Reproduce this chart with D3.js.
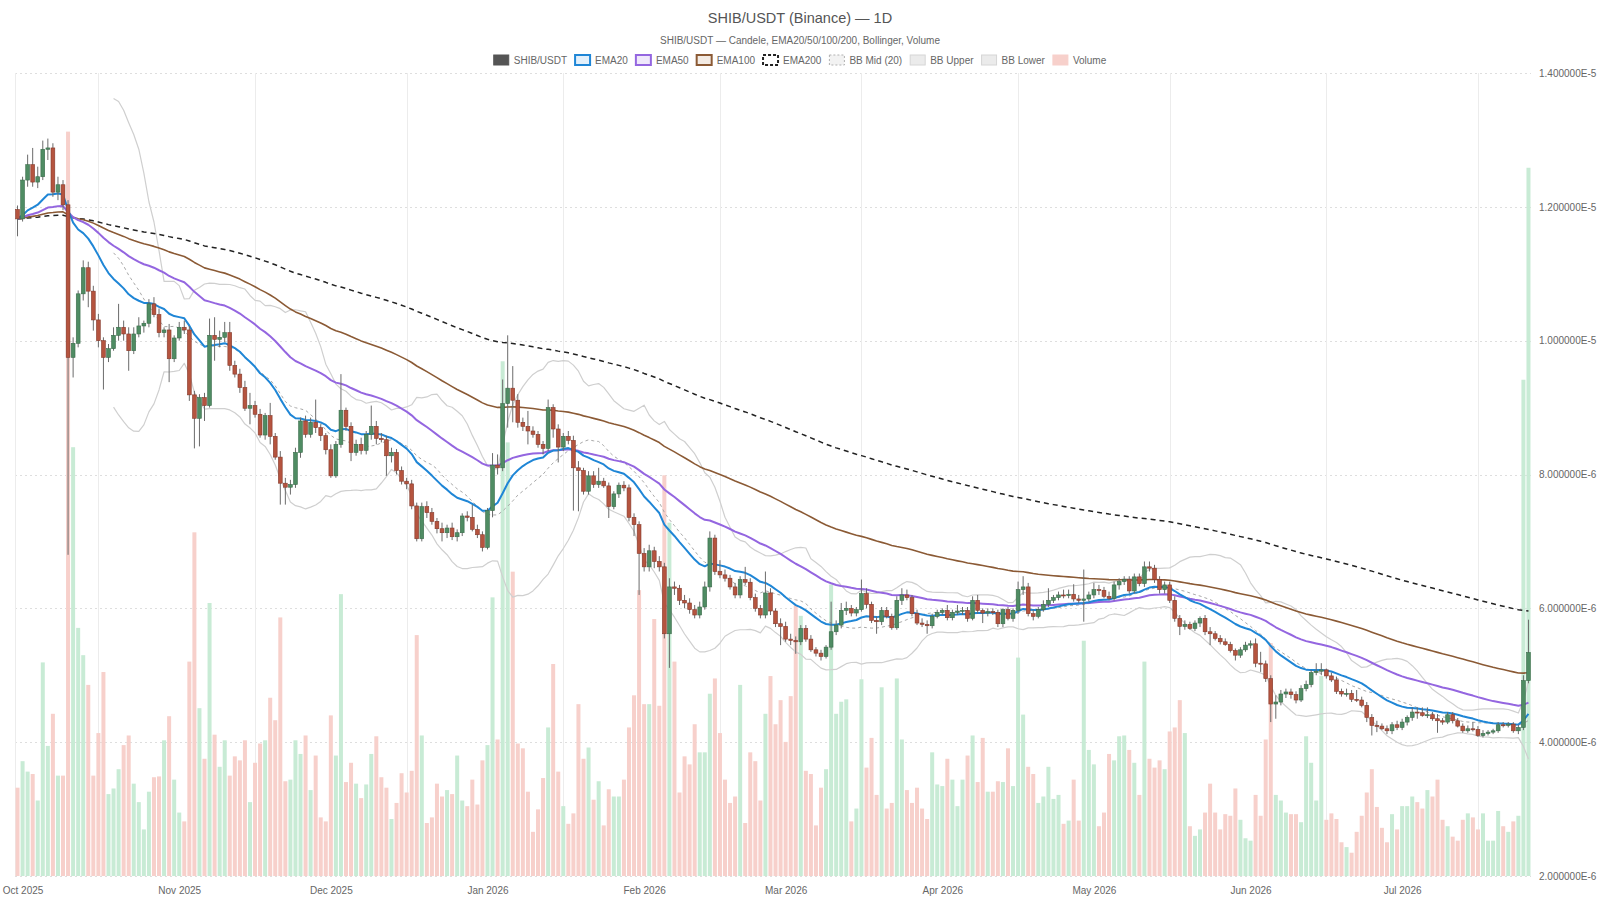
<!DOCTYPE html>
<html>
<head>
<meta charset="utf-8">
<script src="https://cdn.jsdelivr.net/npm/d3@7"></script>
<style>
  body { margin: 0; background: #fff; }
  svg { display: block; font-family: "Liberation Sans", Arial, Helvetica, sans-serif; }
</style>
</head>
<body>
<svg id="chart" width="1600" height="900"></svg>
<script>
// prices in units of 1e-6 USDT, volume in trillions of SHIB
// first candle = 2025-09-30, one candle per day
var firstDay = Date.UTC(2025, 8, 30);

var open = [
  11.96,11.82,12.40,12.63,12.37,12.45,12.86,12.88,12.22,12.33,
  12.03,9.75,9.96,10.70,11.09,10.74,10.31,10.00,9.75,9.88,
  10.08,10.20,10.10,9.85,10.10,10.22,10.26,10.55,10.39,10.12,
  10.16,9.73,10.04,10.20,10.16,9.19,8.84,9.15,9.03,10.08,
  10.02,10.05,10.12,9.63,9.50,9.30,8.99,9.03,8.90,8.59,
  8.88,8.57,8.26,7.87,7.81,7.85,8.33,8.80,8.60,8.78,
  8.70,8.58,8.37,7.98,8.45,8.96,8.72,8.33,8.45,8.36,
  8.60,8.72,8.54,8.52,8.28,8.33,8.06,7.90,7.86,7.53,
  7.04,7.52,7.43,7.30,7.19,7.13,7.20,7.07,7.13,7.38,
  7.36,7.18,7.10,6.91,7.46,8.14,8.10,9.06,9.29,9.11,
  8.78,8.72,8.65,8.60,8.45,8.39,9.00,8.68,8.41,8.57,
  8.51,8.10,8.06,7.75,7.98,7.85,7.90,7.83,7.52,7.71,
  7.84,7.80,7.36,7.25,6.82,6.62,6.86,6.70,6.62,5.62,
  6.32,6.30,6.12,6.08,5.98,5.90,6.02,6.32,7.05,6.55,
  6.50,6.45,6.32,6.20,6.43,6.39,6.16,6.00,5.90,6.23,
  5.96,5.77,5.73,5.54,5.52,5.50,5.70,5.54,5.38,5.33,
  5.28,5.42,5.65,5.75,5.97,6.00,5.93,5.98,6.22,6.06,
  5.82,5.80,5.97,5.88,5.71,6.12,6.20,6.16,5.92,5.78,
  5.76,5.74,5.88,5.94,5.97,5.86,5.94,5.96,5.97,5.85,
  6.12,5.97,5.93,5.95,5.94,5.77,5.98,5.85,5.97,6.28,
  6.32,5.92,5.88,5.98,6.06,6.12,6.16,6.20,6.19,6.21,
  6.14,6.12,6.14,6.20,6.28,6.27,6.18,6.15,6.35,6.40,
  6.43,6.26,6.47,6.37,6.62,6.60,6.43,6.28,6.35,6.12,
  5.85,5.73,5.76,5.70,5.78,5.85,5.65,5.62,5.55,5.50,
  5.46,5.37,5.30,5.38,5.45,5.47,5.18,5.17,4.95,4.57,
  4.60,4.72,4.75,4.71,4.63,4.80,4.86,5.04,5.06,5.08,
  4.99,4.93,4.76,4.72,4.73,4.64,4.63,4.55,4.37,4.25,
  4.24,4.20,4.17,4.26,4.22,4.30,4.37,4.45,4.44,4.40,
  4.41,4.35,4.32,4.30,4.41,4.32,4.24,4.17,4.20,4.19,
  4.10,4.13,4.15,4.17,4.26,4.25,4.27,4.17,4.22,4.92
];

var high = [
  12.02,12.45,12.78,12.88,12.60,12.99,13.02,12.95,12.45,12.40,
  12.10,10.05,10.75,11.20,11.18,10.82,10.40,10.05,9.95,10.20,
  10.55,10.30,10.20,10.20,10.35,10.30,10.62,10.65,10.48,10.20,
  10.25,10.08,10.28,10.30,10.22,9.25,9.20,9.22,10.33,10.35,
  10.15,10.28,10.28,9.70,9.58,9.40,9.22,9.10,8.98,8.92,
  9.07,8.62,8.35,7.95,7.92,8.40,8.85,8.88,8.85,9.12,
  8.75,8.62,8.45,8.50,9.50,9.00,8.78,8.52,8.55,8.65,
  9.03,8.80,8.62,8.58,8.40,8.38,8.12,7.95,7.92,7.58,
  7.58,7.60,7.50,7.35,7.28,7.25,7.28,7.18,7.42,7.45,
  7.55,7.25,7.15,7.50,8.32,8.30,9.42,10.08,9.62,9.20,
  8.85,8.95,8.72,8.65,8.50,9.12,9.05,8.75,8.62,8.65,
  8.58,8.20,8.10,8.05,8.05,8.10,7.95,7.88,7.75,7.88,
  7.90,7.85,7.42,7.30,6.90,6.95,6.92,6.78,6.68,6.45,
  6.40,6.35,6.20,6.15,6.05,6.10,6.40,7.15,7.10,6.72,
  6.58,6.50,6.38,6.48,6.62,6.45,6.22,6.05,6.55,6.30,
  6.00,5.85,5.80,5.62,5.58,5.75,5.75,5.60,5.42,5.38,
  5.45,6.10,5.82,6.08,6.10,6.05,6.02,6.43,6.30,6.10,
  5.88,6.02,6.02,5.92,6.18,6.30,6.28,6.20,5.98,5.85,
  5.82,5.92,5.98,6.00,6.05,5.98,6.05,6.02,6.02,6.18,
  6.20,6.00,6.00,6.00,5.98,6.00,6.02,6.00,6.40,6.48,
  6.38,5.98,6.02,6.12,6.30,6.20,6.25,6.28,6.28,6.36,
  6.20,6.58,6.25,6.38,6.35,6.32,6.25,6.40,6.45,6.48,
  6.48,6.52,6.52,6.70,6.70,6.65,6.48,6.40,6.40,6.18,
  5.90,5.82,5.80,5.82,5.88,5.90,5.72,5.66,5.60,5.55,
  5.50,5.40,5.42,5.50,5.52,5.55,5.35,5.22,5.00,4.70,
  4.78,4.80,4.80,4.76,4.85,4.92,5.08,5.18,5.18,5.10,
  5.04,4.98,4.80,4.80,4.78,4.78,4.68,4.60,4.42,4.32,
  4.28,4.25,4.30,4.32,4.35,4.40,4.52,4.52,4.52,4.52,
  4.45,4.42,4.36,4.45,4.45,4.36,4.28,4.25,4.30,4.24,
  4.18,4.18,4.20,4.30,4.30,4.30,4.30,4.26,5.00,5.83
];

var low = [
  11.56,11.78,12.30,12.30,12.28,12.40,12.70,12.15,12.10,11.95,
  6.80,9.45,9.90,10.60,10.50,10.15,9.90,9.27,9.68,9.85,
  10.00,10.00,9.55,9.80,10.05,10.12,10.20,10.35,10.05,10.05,
  9.38,9.68,10.00,10.10,9.10,8.39,8.42,8.80,9.00,9.70,
  9.90,9.98,9.55,9.45,9.22,8.95,8.75,8.85,8.55,8.52,
  8.45,8.22,7.55,7.55,7.70,7.80,8.25,8.55,8.55,8.62,
  8.50,8.30,7.95,7.95,8.40,8.65,8.20,8.28,8.30,8.30,
  8.52,8.45,8.48,7.98,8.18,8.00,7.85,7.78,7.48,7.00,
  7.00,7.35,7.25,7.12,7.00,7.05,7.02,7.00,7.08,7.30,
  7.15,7.05,6.85,6.88,7.36,8.00,8.05,8.70,8.78,8.70,
  8.65,8.45,8.55,8.40,8.30,8.35,8.55,8.18,8.35,8.45,
  7.46,7.45,7.70,7.70,7.80,7.80,7.80,7.35,7.48,7.65,
  7.75,7.30,7.08,6.20,6.55,6.55,6.60,6.55,5.55,5.11,
  6.20,6.05,6.00,5.92,5.85,5.85,5.98,6.25,6.50,6.45,
  6.40,6.28,6.15,6.15,6.35,6.12,5.95,5.85,5.85,5.90,
  5.72,5.45,5.50,5.45,5.32,5.45,5.50,5.35,5.28,5.22,
  5.25,5.38,5.60,5.70,5.90,5.88,5.88,5.95,6.00,5.78,
  5.62,5.75,5.85,5.68,5.68,6.05,6.12,5.88,5.75,5.72,
  5.62,5.70,5.85,5.90,5.82,5.82,5.90,5.90,5.80,5.82,
  5.92,5.78,5.88,5.90,5.72,5.72,5.82,5.80,5.92,6.20,
  5.88,5.82,5.85,5.95,6.02,6.08,6.12,6.15,6.15,6.10,
  6.08,5.80,6.10,6.15,6.20,6.15,6.12,6.12,6.28,6.35,
  6.22,6.22,6.33,6.32,6.55,6.38,6.22,6.22,6.08,5.80,
  5.60,5.68,5.68,5.66,5.72,5.60,5.45,5.52,5.46,5.44,
  5.34,5.22,5.26,5.35,5.40,5.12,5.05,4.90,4.30,4.35,
  4.55,4.66,4.65,4.58,4.60,4.76,4.82,5.00,5.00,4.95,
  4.90,4.72,4.68,4.68,4.60,4.60,4.52,4.30,4.10,4.15,
  4.18,4.12,4.12,4.18,4.18,4.25,4.32,4.35,4.38,4.36,
  4.32,4.14,4.26,4.27,4.28,4.22,4.14,4.14,4.16,4.08,
  4.07,4.10,4.12,4.14,4.22,4.22,4.14,4.12,4.18,4.88
];

var close = [
  11.82,12.40,12.63,12.37,12.45,12.86,12.88,12.22,12.33,12.03,
  9.75,9.96,10.70,11.09,10.74,10.31,10.00,9.75,9.88,10.08,
  10.20,10.10,9.85,10.10,10.22,10.26,10.55,10.39,10.12,10.16,
  9.73,10.04,10.20,10.16,9.19,8.84,9.15,9.03,10.08,10.02,
  10.05,10.12,9.63,9.50,9.30,8.99,9.03,8.90,8.59,8.88,
  8.57,8.26,7.87,7.81,7.85,8.33,8.80,8.60,8.78,8.70,
  8.58,8.37,7.98,8.45,8.96,8.72,8.33,8.45,8.36,8.60,
  8.72,8.54,8.52,8.28,8.33,8.06,7.90,7.86,7.53,7.04,
  7.52,7.43,7.30,7.19,7.13,7.20,7.07,7.13,7.38,7.36,
  7.18,7.10,6.91,7.46,8.14,8.10,9.06,9.29,9.11,8.78,
  8.72,8.65,8.60,8.45,8.39,9.00,8.68,8.41,8.57,8.51,
  8.10,8.06,7.75,7.98,7.85,7.90,7.83,7.52,7.71,7.84,
  7.80,7.36,7.25,6.82,6.62,6.86,6.70,6.62,5.62,6.32,
  6.30,6.12,6.08,5.98,5.90,6.02,6.32,7.05,6.55,6.50,
  6.45,6.32,6.20,6.43,6.39,6.16,6.00,5.90,6.23,5.96,
  5.77,5.73,5.54,5.52,5.50,5.70,5.54,5.38,5.33,5.28,
  5.42,5.65,5.75,5.97,6.00,5.93,5.98,6.22,6.06,5.82,
  5.80,5.97,5.88,5.71,6.12,6.20,6.16,5.92,5.78,5.76,
  5.74,5.88,5.94,5.97,5.86,5.94,5.96,5.97,5.85,6.12,
  5.97,5.93,5.95,5.94,5.77,5.98,5.85,5.97,6.28,6.32,
  5.92,5.88,5.98,6.06,6.12,6.16,6.20,6.19,6.21,6.14,
  6.12,6.14,6.20,6.28,6.27,6.18,6.15,6.35,6.40,6.43,
  6.26,6.47,6.37,6.62,6.60,6.43,6.28,6.35,6.12,5.85,
  5.73,5.76,5.70,5.78,5.85,5.65,5.62,5.55,5.50,5.46,
  5.37,5.30,5.38,5.45,5.47,5.18,5.17,4.95,4.57,4.60,
  4.72,4.75,4.71,4.63,4.80,4.86,5.04,5.06,5.08,4.99,
  4.93,4.76,4.72,4.73,4.64,4.63,4.55,4.37,4.25,4.24,
  4.20,4.17,4.26,4.22,4.30,4.37,4.45,4.44,4.40,4.41,
  4.35,4.32,4.30,4.41,4.32,4.24,4.17,4.20,4.19,4.10,
  4.13,4.15,4.17,4.26,4.25,4.27,4.17,4.22,4.92,5.34
];

var volume = [
  1.10,1.43,1.30,1.27,0.94,2.66,1.62,2.02,1.25,1.25,
  9.27,5.34,3.09,2.75,2.38,1.25,1.78,2.54,1.02,1.09,
  1.33,1.63,1.75,1.15,0.92,0.58,1.05,1.23,1.24,1.69,
  1.99,1.20,0.79,0.68,2.67,4.28,2.09,1.46,3.40,1.76,
  1.36,1.69,1.25,1.49,1.44,1.69,0.92,1.41,1.65,1.69,
  2.22,1.94,3.22,1.18,1.20,1.69,1.52,1.75,1.07,1.50,
  0.73,0.68,2.00,1.50,3.51,1.17,1.41,1.15,0.97,1.14,
  1.52,1.74,1.23,1.10,0.71,0.91,1.28,1.04,1.31,3.00,
  1.75,0.66,0.73,1.15,0.99,1.07,1.02,1.50,0.94,0.87,
  1.20,0.89,1.44,1.63,3.47,1.70,6.41,5.40,3.79,1.65,
  1.59,1.05,0.55,0.83,1.22,1.85,2.64,1.30,0.87,0.65,
  0.78,2.14,1.46,1.60,0.95,1.18,0.63,1.08,0.99,0.99,
  1.20,1.85,2.25,3.56,2.14,2.14,3.20,2.12,4.99,4.40,
  2.67,1.04,1.49,1.39,1.89,1.54,1.54,2.27,2.46,1.78,
  1.20,0.91,0.99,2.38,0.66,1.54,1.43,0.94,2.02,2.49,
  1.89,2.19,1.67,2.24,3.37,3.24,1.31,1.27,0.63,1.10,
  1.33,3.63,2.02,2.17,2.20,0.68,0.84,2.45,1.35,1.72,
  1.01,2.35,0.84,0.91,2.46,1.70,1.07,0.91,1.10,0.84,
  0.71,1.54,1.14,1.12,1.46,1.20,0.87,1.20,1.50,1.75,
  1.17,1.72,1.05,1.05,1.18,1.17,1.59,1.12,2.72,2.01,
  1.36,1.27,0.91,0.99,1.36,0.96,1.01,0.65,0.69,1.20,
  0.69,2.93,1.57,1.39,0.62,0.79,1.52,1.44,1.74,1.75,
  1.57,1.41,1.01,2.67,1.46,1.35,1.44,1.33,1.80,1.85,
  2.19,1.78,0.62,0.50,0.58,0.79,1.15,0.79,0.58,0.77,
  0.75,1.09,0.70,0.47,0.44,1.01,0.75,1.70,2.90,1.01,
  0.94,0.79,0.77,0.77,0.67,1.74,1.41,0.94,2.49,0.70,
  0.78,0.71,0.42,0.36,0.29,0.55,0.75,1.04,1.33,0.86,
  0.60,0.42,0.77,0.58,0.87,0.87,0.99,0.92,0.84,1.07,
  0.99,1.20,0.70,0.62,0.49,0.44,0.70,0.78,0.73,0.58,
  0.78,0.44,0.44,0.81,0.62,0.55,0.68,0.75,6.18,8.82
];

var priceTicks = [2, 4, 6, 8, 10, 12, 14];
var legendNames = ["SHIB/USDT", "EMA20", "EMA50", "EMA100", "EMA200", "BB Mid (20)", "BB Upper", "BB Lower", "Volume"];

var svg = d3.select("#chart");
var plot = { left: 15, right: 1531, top: 73, bottom: 876 };

var dates = open.map(function(d, i) { return d3.utcDay.offset(new Date(firstDay), i); });

var x = d3.scaleUtc()
  .domain([d3.utcHour.offset(dates[0], -12), d3.utcHour.offset(dates[dates.length - 1], 12)])
  .range([plot.left, plot.right]);
var y = d3.scaleLinear().domain([2, 14]).range([plot.bottom, plot.top]);
var yVol = d3.scaleLinear().domain([0, 10]).range([plot.bottom, plot.top]);

// indicators from the closes
function ema(values, n) {
  var k = 2 / (n + 1), prev;
  return values.map(function(v, i) {
    prev = i === 0 ? v : v * k + prev * (1 - k);
    return prev;
  });
}
function bollinger(values, n, m) {
  var mid = [], up = [], lo = [];
  values.forEach(function(v, i) {
    if (i < n - 1) { mid.push(null); up.push(null); lo.push(null); return; }
    var win = values.slice(i - n + 1, i + 1);
    var mean = d3.mean(win);
    var sd = Math.sqrt(d3.mean(win, function(w) { return (w - mean) * (w - mean); }));
    mid.push(mean); up.push(mean + m * sd); lo.push(mean - m * sd);
  });
  return { mid: mid, up: up, lo: lo };
}
var ema20 = ema(close, 20), ema50 = ema(close, 50), ema100 = ema(close, 100), ema200 = ema(close, 200);
var bb = bollinger(close, 20, 2);

// grid
var monthStarts = d3.utcMonth.range(new Date(Date.UTC(2025, 9, 1)), new Date(Date.UTC(2026, 7, 1)));
var midMonths = monthStarts.map(function(m) { return d3.utcDay.offset(m, 15); });

var grid = svg.append("g");
grid.selectAll("line.h").data(priceTicks).enter().append("line")
  .attr("x1", plot.left).attr("x2", plot.right)
  .attr("y1", function(d) { return Math.round(y(d)) + 0.5; })
  .attr("y2", function(d) { return Math.round(y(d)) + 0.5; })
  .attr("stroke", "#dedede").attr("stroke-width", 1)
  .attr("stroke-dasharray", "2,3");
grid.selectAll("line.v").data(midMonths).enter().append("line")
  .attr("x1", function(d) { return Math.round(x(d)) + 0.5; })
  .attr("x2", function(d) { return Math.round(x(d)) + 0.5; })
  .attr("y1", plot.top).attr("y2", plot.bottom)
  .attr("stroke", "#ececec").attr("stroke-width", 1);
grid.append("line")
  .attr("x1", plot.left + 0.5).attr("x2", plot.left + 0.5)
  .attr("y1", plot.top).attr("y2", plot.bottom)
  .attr("stroke", "#ececec");

// volume
var idx = d3.range(close.length);
function isUp(i) { return close[i] >= open[i]; }
svg.append("g").selectAll("rect").data(idx).enter().append("rect")
  .attr("x", function(i) { return x(dates[i]) - 2; })
  .attr("width", 4)
  .attr("y", function(i) { return yVol(volume[i]); })
  .attr("height", function(i) { return plot.bottom - yVol(volume[i]); })
  .attr("fill", function(i) { return isUp(i) ? "#c8ebd5" : "#f7d0cb"; });

// lines
function drawLine(values, color, width, dash) {
  var line = d3.line()
    .defined(function(i) { return values[i] != null; })
    .x(function(i) { return x(dates[i]); })
    .y(function(i) { return y(values[i]); });
  svg.append("path").datum(idx)
    .attr("fill", "none")
    .attr("stroke", color)
    .attr("stroke-width", width)
    .attr("stroke-dasharray", dash || null)
    .attr("stroke-linejoin", "round")
    .attr("d", line);
}
drawLine(bb.lo, "#cfcfcf", 1.2);
drawLine(bb.up, "#cfcfcf", 1.2);
drawLine(bb.mid, "#a8a8a8", 1, "3,3");
drawLine(ema200, "#222", 1.5, "5,4");
drawLine(ema100, "#8b5a35", 1.6);
drawLine(ema50, "#9466e0", 2);
drawLine(ema20, "#1f86d6", 2);

// candles
var candles = svg.append("g").selectAll("g").data(idx).enter().append("g");
candles.append("line")
  .attr("x1", function(i) { return x(dates[i]); })
  .attr("x2", function(i) { return x(dates[i]); })
  .attr("y1", function(i) { return y(high[i]); })
  .attr("y2", function(i) { return y(low[i]); })
  .attr("stroke", "#6b6b6b").attr("stroke-width", 1);
candles.append("rect")
  .attr("x", function(i) { return x(dates[i]) - 1.9; })
  .attr("width", 3.8)
  .attr("y", function(i) { return y(Math.max(open[i], close[i])); })
  .attr("height", function(i) { return Math.max(1, Math.abs(y(open[i]) - y(close[i]))); })
  .attr("fill", function(i) { return isUp(i) ? "#4f8c63" : "#b5543f"; })
  .attr("stroke", function(i) { return isUp(i) ? "#3a6b4a" : "#84392b"; })
  .attr("stroke-width", 0.6);

// axes
var fmt = d3.utcFormat("%b %Y");
var xAxis = svg.append("g").attr("transform", "translate(0," + plot.bottom + ")")
  .call(d3.axisBottom(x).tickValues(monthStarts).tickFormat(fmt).tickSize(0).tickPadding(11));
xAxis.select(".domain").remove();
xAxis.selectAll("text").attr("fill", "#666").style("font-size", "10px")
  .style("font-family", "'Liberation Sans', Arial, sans-serif");

var yAxis = svg.append("g").attr("transform", "translate(" + plot.right + ",0)")
  .call(d3.axisRight(y).tickValues(priceTicks)
    .tickFormat(function(d) { return (d * 1e-6).toExponential(6).toUpperCase(); })
    .tickSize(0).tickPadding(8));
yAxis.select(".domain").remove();
yAxis.selectAll("text").attr("fill", "#666").style("font-size", "10px")
  .style("font-family", "'Liberation Sans', Arial, sans-serif");

// title
svg.append("text").attr("x", 800).attr("y", 23).attr("text-anchor", "middle")
  .attr("fill", "#555").style("font-size", "14.5px").text("SHIB/USDT (Binance) \u2014 1D");
svg.append("text").attr("x", 800).attr("y", 44).attr("text-anchor", "middle")
  .attr("fill", "#666").style("font-size", "10px")
  .text("SHIB/USDT \u2014 Candele, EMA20/50/100/200, Bollinger, Volume");

// legend
var legendStyle = [
  { fill: "#555", stroke: "#555", w: 1 },
  { fill: "#e3f0fb", stroke: "#1f86d6", w: 2 },
  { fill: "#efe8fb", stroke: "#9466e0", w: 2 },
  { fill: "#f3ebe4", stroke: "#8b5a35", w: 2 },
  { fill: "#fff", stroke: "#222", w: 2, dash: "3,2" },
  { fill: "#f2f2f2", stroke: "#b0b0b0", w: 1, dash: "2,2" },
  { fill: "#ebebeb", stroke: "#d6d6d6", w: 1 },
  { fill: "#ebebeb", stroke: "#d6d6d6", w: 1 },
  { fill: "#f7d0cb", stroke: "#f7d0cb", w: 1 }
];
var legend = svg.append("g");
var items = legend.selectAll("g").data(legendNames).enter().append("g");
items.append("rect")
  .attr("width", 15).attr("height", 10).attr("y", 55)
  .attr("fill", function(d, i) { return legendStyle[i].fill; })
  .attr("stroke", function(d, i) { return legendStyle[i].stroke; })
  .attr("stroke-width", function(d, i) { return legendStyle[i].w; })
  .attr("stroke-dasharray", function(d, i) { return legendStyle[i].dash || null; });
items.append("text")
  .attr("x", 20).attr("y", 63.5)
  .attr("fill", "#666").style("font-size", "10px")
  .text(function(d) { return d; });
var widths = [];
items.each(function() { widths.push(20 + d3.select(this).select("text").node().getComputedTextLength()); });
var gap = 8;
var total = d3.sum(widths) + gap * (widths.length - 1);
var cx = 800 - total / 2;
items.attr("transform", function(d, i) {
  var t = "translate(" + cx + ",0)";
  cx += widths[i] + gap;
  return t;
});
</script>
</body>
</html>
